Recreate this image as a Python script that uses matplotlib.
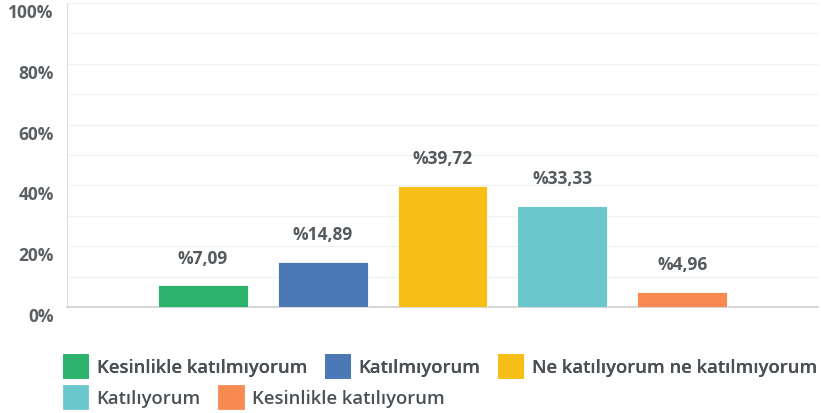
import matplotlib.pyplot as plt
from matplotlib.patches import Patch

CATEGORIES = [
    "Kesinlikle katılmıyorum",
    "Katılmıyorum",
    "Ne katılıyorum ne katılmıyorum",
    "Katılıyorum",
    "Kesinlikle katılıyorum",
]
VALUES = [7.09, 14.89, 39.72, 33.33, 4.96]
VALUE_LABELS = ["%7,09", "%14,89", "%39,72", "%33,33", "%4,96"]
COLORS = ["#2db36d", "#4a79b5", "#f7be17", "#6ac8cd", "#f68a50"]
YTICKS = [0, 20, 40, 60, 80, 100]
YTICK_LABELS = ["0%", "20%", "40%", "60%", "80%", "100%"]

LABEL_FONT = ["Open Sans", "DejaVu Sans"]
LEGEND_FONT = ["Open Sans", "DejaVu Sans"]


def main() -> None:
    fig = plt.figure(figsize=(8.21, 4.14), dpi=100)
    ax = fig.add_axes([67 / 821, 1 - 308 / 414, (818 - 67) / 821, (308 - 4) / 414])

    x = list(range(len(VALUES)))
    ax.bar(x, VALUES, width=0.75, color=COLORS, edgecolor="white", linewidth=0.6, zorder=3)

    for xi, val, lab in zip(x, VALUES, VALUE_LABELS):
        ax.annotate(
            lab,
            xy=(xi, val),
            xytext=(0, 20),
            textcoords="offset points",
            ha="center",
            va="center",
            fontsize=12.5,
            fontweight="bold",
            color="#555a5e",
            family=LABEL_FONT,
        )

    ax.set_xlim(-1.13, 4.13 + 1.0)
    ax.set_ylim(0, 100)
    ax.set_xticks([])
    ax.set_yticks(YTICKS)
    ax.set_yticklabels(YTICK_LABELS)
    ax.set_yticks(range(10, 100, 20), minor=True)
    ax.tick_params(axis="y", which="both", length=0, pad=9.5)
    for label in ax.get_yticklabels():
        label.set_verticalalignment("top")
        label.set_fontsize(12.5)
        label.set_fontweight("bold")
        label.set_color("#5a5f64")
        label.set_family(LABEL_FONT)

    ax.grid(axis="y", which="both", color="#eef2f2", linewidth=1.0, zorder=0)
    ax.set_axisbelow(True)
    for side in ["top", "right"]:
        ax.spines[side].set_visible(False)
    ax.spines["left"].set_color("#e0e0e0")
    ax.spines["bottom"].set_color("#cfcfcf")
    ax.spines["bottom"].set_linewidth(1.2)

    handles = [
        Patch(facecolor=c, edgecolor=c, linewidth=2, joinstyle="round", label=n)
        for c, n in zip(COLORS, CATEGORIES)
    ]
    common = dict(
        loc="center left",
        frameon=False,
        handlelength=1.25,
        handleheight=1.45,
        handletextpad=0.52,
        columnspacing=1.0,
        borderpad=0,
        borderaxespad=0,
        prop={"family": LEGEND_FONT, "size": 13.3, "weight": "semibold"},
        labelcolor="#4a5056",
    )
    leg1 = fig.legend(handles=handles[:3], ncol=3, bbox_to_anchor=(64 / 821, 1 - 367 / 414), **common)
    fig.add_artist(leg1)
    fig.legend(handles=handles[3:], ncol=2, bbox_to_anchor=(64 / 821, 1 - 398 / 414), **common)

    fig.savefig("out.png", dpi=100)
    plt.close(fig)


if __name__ == "__main__":
    main()
